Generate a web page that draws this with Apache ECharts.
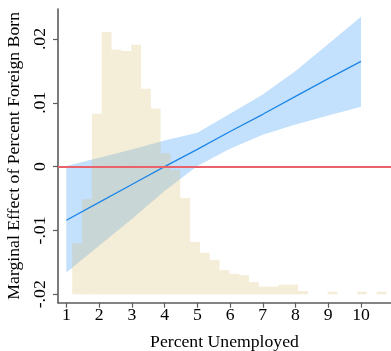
<!DOCTYPE html>
<html><head><meta charset="utf-8">
<script src="https://cdn.jsdelivr.net/npm/echarts@6/dist/echarts.min.js"></script>
<style>html,body{margin:0;padding:0;background:#fff}#c{width:391px;height:351px}</style>
</head><body><div id="c"></div>
<script>
// ---- data ----
const xTicks = [1, 2, 3, 4, 5, 6, 7, 8, 9, 10];
const yTicks = [-0.02, -0.01, 0, 0.01, 0.02];
const yTickLabels = ['-.02', '-.01', '0', '.01', '.02'];

const unemp      = [1, 2, 3, 4, 5, 6, 7, 8, 9, 10];
const margEffect = [-0.0084, -0.0056, -0.0028, 0.0000, 0.0027, 0.0055, 0.0082, 0.0110, 0.0138, 0.0165];
const ciUpper    = [0.0001, 0.0014, 0.0027, 0.0041, 0.0053, 0.0083, 0.0113, 0.0150, 0.0192, 0.0235];
const ciLower    = [-0.0166, -0.0124, -0.0082, -0.0038, 0.0001, 0.0028, 0.0050, 0.0066, 0.0080, 0.0094];

const histBinLeft = [1.18, 1.48, 1.78, 2.08, 2.38, 2.68, 2.98, 3.28, 3.58, 3.88, 4.18, 4.48, 4.78, 5.08, 5.38, 5.68,
                     5.98, 6.28, 6.58, 6.88, 7.18, 7.48, 7.78, 8.08, 8.38, 8.68, 8.98, 9.28, 9.58, 9.88, 10.18, 10.48];
const histBinWidth = 0.3;
const histDensity = [0.80, 1.49, 2.83, 4.11, 3.83, 3.81, 3.91, 3.22, 2.91, 2.21, 1.95, 1.51, 0.82, 0.65, 0.54, 0.38,
                     0.32, 0.30, 0.19, 0.12, 0.12, 0.15, 0.15, 0.05, 0, 0, 0.04, 0, 0, 0.04, 0, 0.04];

// ---- layout / style ----
const yMin = -0.02132, yMax = 0.0247;
const xMin = 0.745, xMax = 10.916;
const font = 'Liberation Serif';
const fs = 17.7;
const axisCol = '#5c5c5c';

const chart = echarts.init(document.getElementById('c'), null, {renderer: 'canvas'});
const labelFor = v => {
  for (let i = 0; i < yTicks.length; i++) if (Math.abs(yTicks[i] - v) < 1e-9) return yTickLabels[i];
  return '';
};

chart.setOption({
  animation: false,
  backgroundColor: '#fff',
  grid: {left: 58, right: 0, top: 9, bottom: 48.3, containLabel: false, outerBoundsMode: 'none'},
  xAxis: {
    type: 'value', min: xMin, max: xMax,
    name: 'Percent Unemployed', nameLocation: 'middle', nameGap: 31,
    nameTextStyle: {fontFamily: font, fontSize: fs, color: '#000'},
    axisLine: {show: true, onZero: false, lineStyle: {color: axisCol, width: 1.6}},
    axisTick: {show: true, length: 5, customValues: xTicks, lineStyle: {color: axisCol, width: 1.2}},
    axisLabel: {customValues: xTicks, margin: 4, fontFamily: font, fontSize: fs, color: '#000'},
    splitLine: {show: false}
  },
  yAxis: [{
    type: 'value', min: yMin, max: yMax,
    name: 'Marginal Effect of Percent Foreign Born', nameLocation: 'middle', nameRotate: 90, nameGap: 28,
    nameTextStyle: {fontFamily: font, fontSize: fs, color: '#000'},
    axisLine: {show: true, onZero: false, lineStyle: {color: axisCol, width: 1.6}},
    axisTick: {show: true, length: 5, customValues: yTicks, lineStyle: {color: axisCol, width: 1.2}},
    axisLabel: {customValues: yTicks, rotate: 90, margin: 9, fontFamily: font, fontSize: fs, color: '#000',
                formatter: labelFor},
    splitLine: {show: false}
  }, {
    type: 'value', show: false, min: (yMin + 0.02) * 100, max: (yMax + 0.02) * 100,
    axisLine: {onZero: false}, splitLine: {show: false}
  }],
  series: [
    {
      name: 'ciBand', type: 'custom', xAxisIndex: 0, yAxisIndex: 0, z: 1,
      data: unemp.map((x, i) => [x, ciLower[i], ciUpper[i]]),
      renderItem: function (params, api) {
        if (params.dataIndex !== 0) return null;
        const pts = [];
        for (let i = 0; i < unemp.length; i++) pts.push(api.coord([unemp[i], ciUpper[i]]));
        for (let i = unemp.length - 1; i >= 0; i--) pts.push(api.coord([unemp[i], ciLower[i]]));
        return {type: 'polygon', shape: {points: pts}, style: {fill: '#c3e0fc'}};
      }
    },
    {
      name: 'hist', type: 'custom', xAxisIndex: 0, yAxisIndex: 1, z: 2,
      data: histBinLeft.map((l, i) => [l, l + histBinWidth, histDensity[i]]),
      renderItem: function (params, api) {
        const h = api.value(2);
        if (!h) return null;
        const p0 = api.coord([api.value(0), 0]);
        const p1 = api.coord([api.value(1), h]);
        return {
          type: 'rect',
          shape: {x: p0[0], y: p1[1], width: p1[0] - p0[0], height: p0[1] - p1[1]},
          style: {fill: 'rgba(214,189,111,0.27)'}
        };
      }
    },
    {
      name: 'effect', type: 'line', symbol: 'none', z: 3,
      data: unemp.map((x, i) => [x, margEffect[i]]),
      lineStyle: {color: '#1c86e8', width: 1.3}
    },
    {
      name: 'zero', type: 'line', data: [], z: 4,
      markLine: {
        silent: true, symbol: 'none', label: {show: false},
        lineStyle: {color: '#e8636b', width: 1.8, type: 'solid'},
        data: [{yAxis: 0}]
      }
    }
  ]
});
</script>
</body></html>
